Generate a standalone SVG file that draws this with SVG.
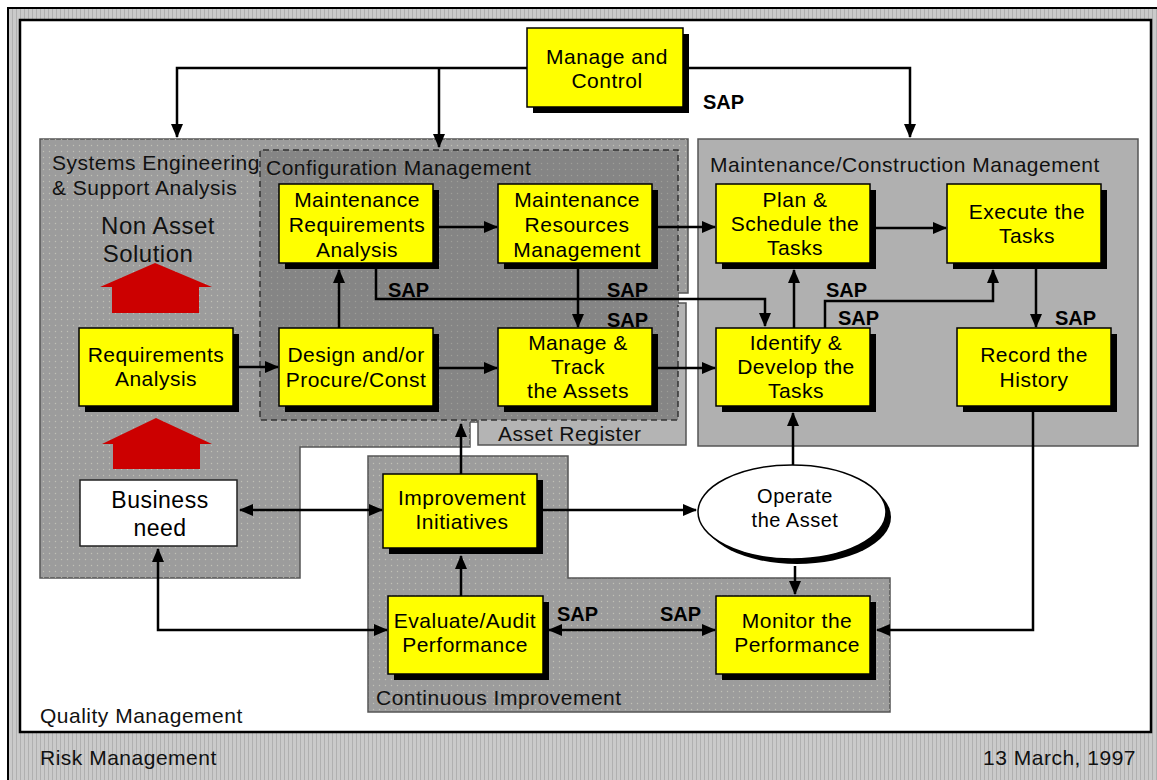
<svg xmlns="http://www.w3.org/2000/svg" width="1157" height="780" viewBox="0 0 1157 780">
<defs>
<style>
.t{font-family:"Liberation Sans",Arial,sans-serif;font-size:21px;letter-spacing:0.5px;fill:#000;text-anchor:middle}
.lb{font-family:"Liberation Sans",Arial,sans-serif;font-size:21px;letter-spacing:0.5px;fill:#111}
.sap{font-family:"Liberation Sans",Arial,sans-serif;font-size:20px;font-weight:bold;fill:#000}
.box{fill:#ffff00;stroke:#000;stroke-width:1.5}
.sh{fill:#000}
.ln{fill:none;stroke:#000;stroke-width:2.5}
</style>
<marker id="ah" markerUnits="userSpaceOnUse" markerWidth="14" markerHeight="12" refX="13" refY="6" orient="auto-start-reverse">
<path d="M0,0 L14,6 L0,12 Z" fill="#000"/>
</marker>
<pattern id="dots" width="6" height="6" patternUnits="userSpaceOnUse">
<circle cx="1.5" cy="1.5" r="0.7" fill="#d8d8c8" opacity="0.6"/>
</pattern>
<pattern id="hatch" width="4" height="4" patternUnits="userSpaceOnUse">
<rect width="4" height="4" fill="#cacaca"/>
<rect x="0" y="0" width="1" height="4" fill="#b0b0b0"/>
</pattern>
</defs>

<!-- outer frame -->
<g id="frame">
<rect x="8" y="8" width="1170" height="800" fill="url(#hatch)" stroke="#000" stroke-width="2"/>
<rect x="20" y="20" width="1131" height="712" fill="#fff" stroke="#000" stroke-width="2.5"/>
<text class="lb" x="40" y="723">Quality Management</text>
<text class="lb" x="40" y="765">Risk Management</text>
<text class="lb" x="1136" y="765" text-anchor="end">13 March, 1997</text>
</g>

<!-- panels -->
<g id="panel-se">
<path d="M40,139 H688 V293 H678 V422 H470 V447 H300 V578 H40 Z" fill="#9c9c9c" stroke="#555" stroke-width="1.5"/>
<path d="M40,139 H688 V293 H678 V422 H470 V447 H300 V578 H40 Z" fill="url(#dots)"/>
<text class="lb" x="52" y="170">Systems Engineering</text>
<text class="lb" x="52" y="195">&amp; Support Analysis</text>
<text class="lb" x="158" y="234" text-anchor="middle" style="font-size:24px">Non Asset</text>
<text class="lb" x="148" y="262" text-anchor="middle" style="font-size:24px">Solution</text>
</g>
<g id="panel-ar">
<rect x="478" y="303" width="208" height="142" fill="#b4b4b4" stroke="#555" stroke-width="1.5"/>
<text class="lb" x="498" y="441">Asset Register</text>
</g>
<g id="panel-cm">
<rect x="260" y="150" width="418" height="270" fill="#858585"/>
<rect x="260" y="150" width="418" height="270" fill="url(#dots)" opacity="0.5"/>
<path d="M678,291 V150 H260 V420 H678 V305" fill="none" stroke="#333" stroke-width="1.5" stroke-dasharray="6,4"/>
<text class="lb" x="266" y="175">Configuration Management</text>
</g>
<g id="panel-mc">
<rect x="698" y="139" width="440" height="307" fill="#b0b0b0" stroke="#555" stroke-width="1.5"/>
<text class="lb" x="710" y="172">Maintenance/Construction Management</text>
</g>
<g id="panel-ci">
<path d="M368,456 H568 V578 H890 V712 H368 Z" fill="#9c9c9c" stroke="#555" stroke-width="1.5"/>
<path d="M368,456 H568 V578 H890 V712 H368 Z" fill="url(#dots)"/>
<text class="lb" x="376" y="705">Continuous Improvement</text>
</g>

<!-- red arrows -->
<g id="red-arrows" fill="#cc0000">
<path d="M155,263 L212,287 H199 V313 H112 V287 H100 Z"/>
<path d="M156,418 L212,444 H200 V469 H113 V444 H102 Z"/>
</g>

<!-- connectors -->
<g id="connectors">
<path class="ln" d="M527,68 H177 V137" marker-end="url(#ah)"/>
<path class="ln" d="M439,68 V147" marker-end="url(#ah)"/>
<path class="ln" d="M683,68 H910 V137" marker-end="url(#ah)"/>
<path class="ln" d="M439,227 H497" marker-end="url(#ah)"/>
<path class="ln" d="M658,227 H715" marker-end="url(#ah)"/>
<path class="ln" d="M876,228 H946" marker-end="url(#ah)"/>
<path class="ln" d="M239,367 H278" marker-end="url(#ah)"/>
<path class="ln" d="M339,328 V270" marker-end="url(#ah)"/>
<path class="ln" d="M439,368 H497" marker-end="url(#ah)"/>
<path class="ln" d="M658,368 H715" marker-end="url(#ah)"/>
<path class="ln" d="M578,269 V327" marker-end="url(#ah)"/>
<path class="ln" d="M376,269 V299 H765 V326" marker-end="url(#ah)"/>
<path class="ln" d="M794,328 V270" marker-end="url(#ah)"/>
<path class="ln" d="M825,328 V301 H993 V270" marker-end="url(#ah)"/>
<path class="ln" d="M1036,269 V327" marker-end="url(#ah)"/>
<path class="ln" d="M793,466 V413" marker-end="url(#ah)"/>
<path class="ln" d="M543,510 H696" marker-end="url(#ah)"/>
<path class="ln" d="M461,474 V424" marker-end="url(#ah)"/>
<path class="ln" d="M240,510 H382" marker-start="url(#ah)" marker-end="url(#ah)"/>
<path class="ln" d="M158,549 V630 H387" marker-start="url(#ah)" marker-end="url(#ah)"/>
<path class="ln" d="M461,596 V556" marker-end="url(#ah)"/>
<path class="ln" d="M549,630 H715" marker-start="url(#ah)" marker-end="url(#ah)"/>
<path class="ln" d="M795,566 V594" marker-end="url(#ah)"/>
<path class="ln" d="M1033,412 V630 H877" marker-end="url(#ah)"/>
<text class="sap" x="703" y="109">SAP</text>
<text class="sap" x="388" y="297">SAP</text>
<text class="sap" x="607" y="297">SAP</text>
<text class="sap" x="607" y="327">SAP</text>
<text class="sap" x="826" y="297">SAP</text>
<text class="sap" x="838" y="325">SAP</text>
<text class="sap" x="1055" y="325">SAP</text>
<text class="sap" x="557" y="621">SAP</text>
<text class="sap" x="660" y="621">SAP</text>
</g>

<!-- nodes -->
<g id="n-manage-control">
<rect class="sh" x="533" y="34" width="156" height="79"/>
<rect class="box" x="527" y="28" width="156" height="79"/>
<text class="t" x="607" y="64">Manage and</text>
<text class="t" x="607" y="88">Control</text>
</g>
<g id="n-maint-req">
<rect class="sh" x="285" y="190" width="154" height="79"/>
<rect class="box" x="279" y="184" width="154" height="79"/>
<text class="t" x="357" y="207">Maintenance</text>
<text class="t" x="357" y="232">Requirements</text>
<text class="t" x="357" y="257">Analysis</text>
</g>
<g id="n-maint-res">
<rect class="sh" x="504" y="190" width="154" height="79"/>
<rect class="box" x="498" y="184" width="154" height="79"/>
<text class="t" x="577" y="207">Maintenance</text>
<text class="t" x="577" y="232">Resources</text>
<text class="t" x="577" y="257">Management</text>
</g>
<g id="n-plan">
<rect class="sh" x="722" y="190" width="154" height="79"/>
<rect class="box" x="716" y="184" width="154" height="79"/>
<text class="t" x="795" y="207">Plan &amp;</text>
<text class="t" x="795" y="231">Schedule the</text>
<text class="t" x="795" y="255">Tasks</text>
</g>
<g id="n-execute">
<rect class="sh" x="953" y="190" width="154" height="79"/>
<rect class="box" x="947" y="184" width="154" height="79"/>
<text class="t" x="1027" y="219">Execute the</text>
<text class="t" x="1027" y="243">Tasks</text>
</g>
<g id="n-req-analysis">
<rect class="sh" x="85" y="334" width="154" height="78"/>
<rect class="box" x="79" y="328" width="154" height="78"/>
<text class="t" x="156" y="362">Requirements</text>
<text class="t" x="156" y="386">Analysis</text>
</g>
<g id="n-design">
<rect class="sh" x="285" y="334" width="154" height="78"/>
<rect class="box" x="279" y="328" width="154" height="78"/>
<text class="t" x="356" y="362">Design and/or</text>
<text class="t" x="356" y="387">Procure/Const</text>
</g>
<g id="n-manage-track">
<rect class="sh" x="504" y="334" width="154" height="78"/>
<rect class="box" x="498" y="328" width="154" height="78"/>
<text class="t" x="578" y="350">Manage &amp;</text>
<text class="t" x="578" y="374">Track</text>
<text class="t" x="578" y="398">the Assets</text>
</g>
<g id="n-identify">
<rect class="sh" x="722" y="334" width="154" height="78"/>
<rect class="box" x="716" y="328" width="154" height="78"/>
<text class="t" x="796" y="350">Identify &amp;</text>
<text class="t" x="796" y="374">Develop the</text>
<text class="t" x="796" y="398">Tasks</text>
</g>
<g id="n-record">
<rect class="sh" x="963" y="334" width="154" height="78"/>
<rect class="box" x="957" y="328" width="154" height="78"/>
<text class="t" x="1034" y="362">Record the</text>
<text class="t" x="1034" y="387">History</text>
</g>
<g id="n-business">
<rect x="80" y="480" width="157" height="66" fill="#fff" stroke="#222" stroke-width="1.5"/>
<text class="t" x="160" y="508" style="font-size:23px">Business</text>
<text class="t" x="160" y="536" style="font-size:23px">need</text>
</g>
<g id="n-improvement">
<rect class="sh" x="389" y="480" width="154" height="74"/>
<rect class="box" x="383" y="474" width="154" height="74"/>
<text class="t" x="462" y="505">Improvement</text>
<text class="t" x="462" y="529">Initiatives</text>
</g>
<g id="n-operate">
<ellipse cx="797" cy="517" rx="94" ry="47" fill="#000"/>
<ellipse cx="792" cy="512" rx="94" ry="47" fill="#fff" stroke="#000" stroke-width="1.5"/>
<text class="t" x="795" y="503" style="font-size:20px">Operate</text>
<text class="t" x="795" y="527" style="font-size:20px">the Asset</text>
</g>
<g id="n-evaluate">
<rect class="sh" x="394" y="602" width="155" height="78"/>
<rect class="box" x="388" y="596" width="155" height="78"/>
<text class="t" x="465" y="628">Evaluate/Audit</text>
<text class="t" x="465" y="652">Performance</text>
</g>
<g id="n-monitor">
<rect class="sh" x="722" y="602" width="154" height="78"/>
<rect class="box" x="716" y="596" width="154" height="78"/>
<text class="t" x="797" y="628">Monitor the</text>
<text class="t" x="797" y="652">Performance</text>
</g>
</svg>
